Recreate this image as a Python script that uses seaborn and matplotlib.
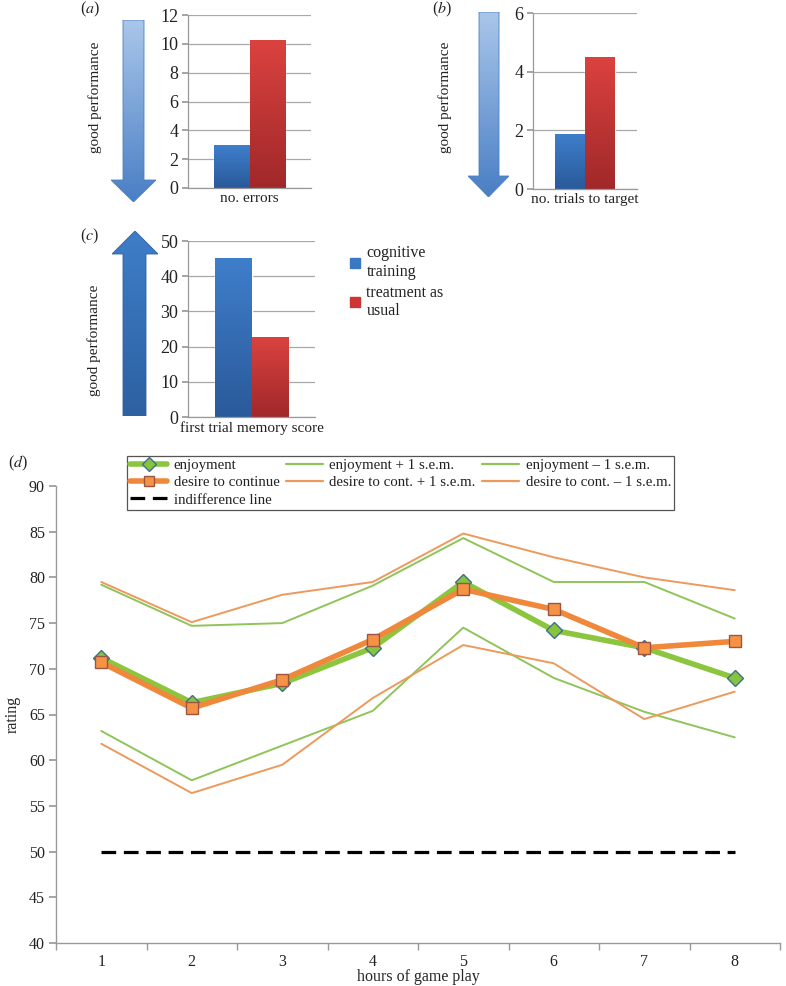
import numpy as np
import pandas as pd
import matplotlib.pyplot as plt
import seaborn as sns
from matplotlib.patches import Polygon, Patch
from matplotlib.lines import Line2D
from matplotlib.colors import to_rgb

# ---- data -------------------------------------------------------------
groups = ['cognitive\ntraining', 'treatment as\nusual']
errors = [2.95, 10.2]
trials_to_target = [1.87, 4.48]
memory_score = [45.0, 22.6]

hours = [1, 2, 3, 4, 5, 6, 7, 8]
enjoyment = [71.2, 66.3, 68.4, 72.3, 79.5, 74.2, 72.3, 69.0]
desire = [70.7, 65.7, 68.8, 73.2, 78.7, 76.5, 72.3, 73.0]
enjoyment_plus = [79.2, 74.7, 75.0, 79.1, 84.3, 79.5, 79.5, 75.5]
enjoyment_minus = [63.2, 57.8, 61.6, 65.4, 74.5, 69.0, 65.3, 62.5]
desire_plus = [79.5, 75.1, 78.1, 79.5, 84.8, 82.2, 80.0, 78.6]
desire_minus = [61.8, 56.4, 59.5, 66.8, 72.6, 70.6, 64.5, 67.5]
indifference = [50] * 8

# ---- style ------------------------------------------------------------
sns.set_theme(style='white')
plt.rcParams['font.family'] = ['Liberation Serif', 'DejaVu Serif']
plt.rcParams['mathtext.fontset'] = 'stix'
plt.rcParams['text.color'] = '#222222'
plt.rcParams['xtick.color'] = '#222222'
plt.rcParams['ytick.color'] = '#222222'

W, H = 786, 986
fig = plt.figure(figsize=(W / 100, H / 100), dpi=100)


def rect(l, t, r, b):
    return [l / W, 1 - b / H, (r - l) / W, (b - t) / H]


def gradient(top, bottom, n=64):
    t = np.linspace(0, 1, n)[:, None]
    a, b = np.array(to_rgb(bottom)), np.array(to_rgb(top))
    return (a * (1 - t) + b * t)[:, None, :]


BLUE, RED = '#3a78c2', '#cc3533'
bar_grad = {BLUE: ('#3f7ecb', '#2a5a9a'), RED: ('#da423f', '#a1282a')}


def bar_panel(box, label, values, ymax, step):
    ax = fig.add_axes(rect(*box))
    df = pd.DataFrame({'measure': [label] * 2, 'group': groups, 'value': values})
    sns.barplot(data=df, x='measure', y='value', hue='group', palette=[BLUE, RED],
                saturation=1, width=0.57, ax=ax, legend=False)
    for p, c in zip(ax.patches, [BLUE, RED]):
        bb = p.get_bbox()
        top, bot = bar_grad[c]
        ax.imshow(gradient(top, bot), extent=[bb.x0, bb.x1, bb.y0, bb.y1],
                  aspect='auto', origin='lower', zorder=p.get_zorder() + 0.1,
                  interpolation='bicubic')
    ax.set_xlim(-0.5, 0.5)
    ax.set_ylim(0, ymax)
    ax.set_yticks(np.arange(0, ymax + 0.1, step))
    ax.yaxis.grid(True, color='#a8a8a8', lw=0.9)
    ax.set_axisbelow(True)
    for s in ['top', 'right']:
        ax.spines[s].set_visible(False)
    for s in ['left', 'bottom']:
        ax.spines[s].set_color('#999999')
        ax.spines[s].set_linewidth(0.9)
    ax.tick_params(axis='x', length=0, pad=3, labelsize=11)
    ax.tick_params(axis='y', length=4, color='#999999', pad=3, labelsize=13, left=True)
    ax.set_xlabel('')
    ax.set_ylabel('')
    return ax


def arrow(box, shaft, head_y, up, top_c, bot_c):
    l, t, r, b = box
    ax = fig.add_axes(rect(l, t, r, b))
    ax.set_xlim(0, 1)
    ax.set_ylim(0, 1)
    ax.axis('off')
    s0 = (shaft[0] - l) / (r - l)
    s1 = (shaft[1] - l) / (r - l)
    hb = (b - head_y) / (b - t)
    if up:
        pts = [(s0, 0), (s1, 0), (s1, hb), (1, hb), (0.5, 1), (0, hb), (s0, hb)]
    else:
        pts = [(s0, 1), (s1, 1), (s1, hb), (1, hb), (0.5, 0), (0, hb), (s0, hb)]
    poly = Polygon(pts, closed=True, facecolor='none', edgecolor=bot_c, lw=0.6)
    ax.add_patch(poly)
    img = ax.imshow(gradient(top_c, bot_c), extent=[0, 1, 0, 1], aspect='auto',
                    origin='lower', interpolation='bicubic')
    img.set_clip_path(poly)


# ---- panels a, b, c ---------------------------------------------------
bar_panel((188, 15, 311, 188), 'no. errors', errors, 12, 2)
bar_panel((533, 13, 637, 189), 'no. trials to target', trials_to_target, 6, 2)
bar_panel((188, 241, 315, 417), 'first trial memory score', memory_score, 50, 10)

arrow((111, 20, 156, 202), (123, 144), 180, False, '#a9c6ea', '#4a7fc4')
arrow((468, 12, 509, 197), (479, 499), 176, False, '#a9c6ea', '#4a7fc4')
arrow((112, 231, 158, 416), (123, 146), 254, True, '#3e7ec8', '#2d61a2')

for x, y in [(95, 97), (445, 97), (94, 340)]:
    fig.text(x / W, 1 - y / H, 'good performance', rotation=90,
             ha='center', va='center', fontsize=11)
for x, y, s in [(90, 9, 'a'), (442, 9, 'b'), (90, 236, 'c'), (18, 463, 'd')]:
    fig.text(x / W, 1 - y / H, '($\\mathit{%s}$)' % s, ha='center', va='center', fontsize=11.5)

fig.legend(handles=[Patch(color=BLUE), Patch(color=RED)], labels=groups,
           loc='upper left', bbox_to_anchor=(344 / W, 1 - 239 / H), frameon=False,
           fontsize=11.5, handlelength=0.6, handleheight=0.6, handletextpad=0.4,
           labelspacing=0.3, borderaxespad=0)

# ---- panel d ----------------------------------------------------------
ax = fig.add_axes(rect(56, 486, 780, 943))
GREEN, ORANGE = '#8cc63e', '#f0883c'
THIN_G, THIN_O = '#8fc45a', '#ec9a5c'

sns.lineplot(x=hours, y=enjoyment_plus, ax=ax, color=THIN_G, lw=1.4)
sns.lineplot(x=hours, y=desire_plus, ax=ax, color=THIN_O, lw=1.4)
sns.lineplot(x=hours, y=enjoyment_minus, ax=ax, color=THIN_G, lw=1.4)
sns.lineplot(x=hours, y=desire_minus, ax=ax, color=THIN_O, lw=1.4)
sns.lineplot(x=hours, y=indifference, ax=ax, color='black', lw=2.3,
             linestyle=(0, (4.6, 2.4)))
sns.lineplot(x=hours, y=enjoyment, ax=ax, color=GREEN, lw=4, marker='D',
             markersize=8, markerfacecolor='#86c440', markeredgecolor='#3f6f8c',
             markeredgewidth=1)
sns.lineplot(x=hours, y=desire, ax=ax, color=ORANGE, lw=4, marker='s',
             markersize=8, markerfacecolor='#f69245', markeredgecolor='#9c5640',
             markeredgewidth=1)

ax.set_xlim(0.5, 8.5)
ax.set_ylim(40, 90)
ax.set_xticks(hours)
ax.set_xticks(np.arange(0.5, 8.6, 1), minor=True)
ax.set_yticks(np.arange(40, 91, 5))
for s in ['top', 'right']:
    ax.spines[s].set_visible(False)
for s in ['left', 'bottom']:
    ax.spines[s].set_color('#999999')
    ax.spines[s].set_linewidth(1)
ax.tick_params(axis='x', which='major', length=0, pad=8, labelsize=11.5)
ax.tick_params(axis='x', which='minor', length=5, color='#999999', bottom=True)
ax.tick_params(axis='y', length=5, color='#999999', pad=3, labelsize=11.5, left=True)
ax.set_xlabel('hours of game play', fontsize=11.5, labelpad=-1)
ax.set_ylabel('rating', fontsize=11.5, labelpad=6)

handles = [
    Line2D([], [], color=GREEN, lw=4, marker='D', markersize=7,
           markerfacecolor='#86c440', markeredgecolor='#3f6f8c'),
    Line2D([], [], color=ORANGE, lw=4, marker='s', markersize=7,
           markerfacecolor='#f69245', markeredgecolor='#9c5640'),
    Line2D([], [], color='black', lw=2.3, linestyle=(0, (4.6, 2.4))),
    Line2D([], [], color=THIN_G, lw=1.6),
    Line2D([], [], color=THIN_O, lw=1.6),
    Line2D([], [], color=THIN_G, lw=1.6),
    Line2D([], [], color=THIN_O, lw=1.6),
]
labels = ['enjoyment', 'desire to continue', 'indifference line',
          'enjoyment + 1 s.e.m.', 'desire to cont. + 1 s.e.m.',
          'enjoyment \u2013 1 s.e.m.', 'desire to cont. \u2013 1 s.e.m.']
leg = ax.legend(handles, labels, ncol=3, loc='upper left',
                bbox_to_anchor=(127 / W, 1 - 456 / H), bbox_transform=fig.transFigure,
                frameon=True, fancybox=False, framealpha=1, edgecolor='#555555',
                fontsize=10.7, handlelength=2.5, columnspacing=0.4, borderpad=0.2,
                labelspacing=0.25, handletextpad=0.45, borderaxespad=0)
leg.get_frame().set_linewidth(0.9)

fig.savefig('out.png', dpi=100)
